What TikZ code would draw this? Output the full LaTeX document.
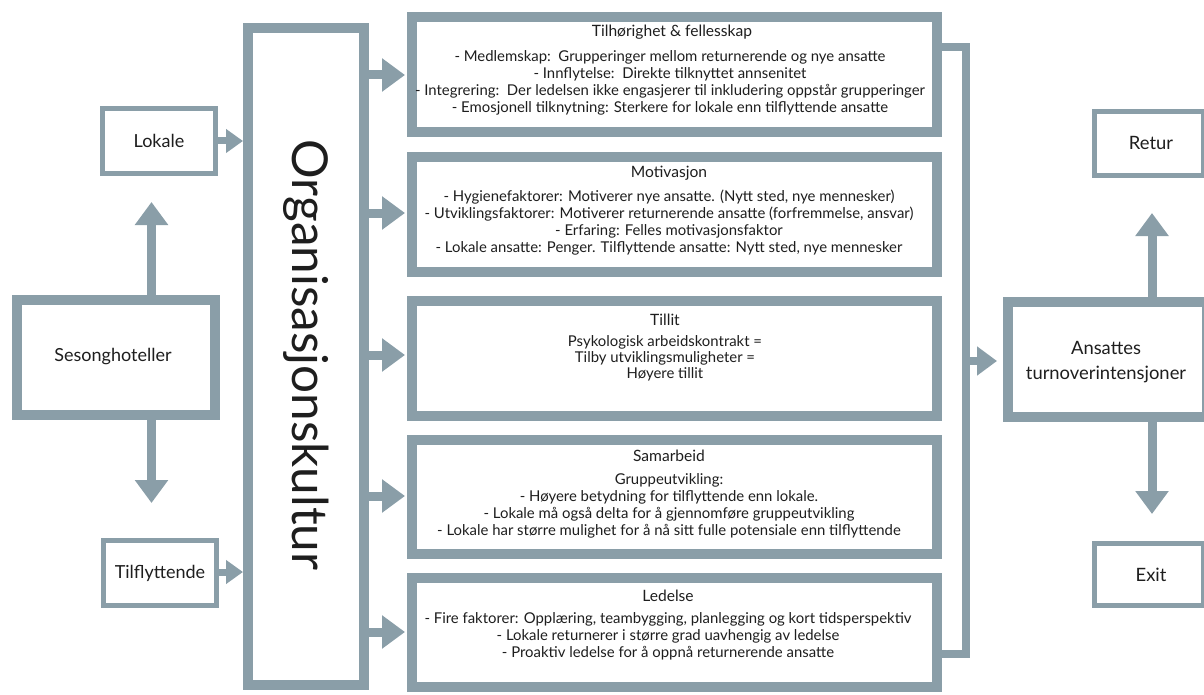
\documentclass[tikz,border=0pt]{standalone}
\usepackage{fontspec}
\setmainfont{Lato}
\usetikzlibrary{arrows.meta}
\definecolor{bc}{HTML}{8A9EA8}
\definecolor{tc}{HTML}{1E1E1E}
\begin{document}
\begin{tikzpicture}[x=1pt,y=-1pt,
  thickbox/.style={draw=bc, line width=10pt, inner sep=0pt, fill=white, text=tc},
  thinbox/.style={draw=bc, line width=5pt, inner sep=0pt, fill=white, text=tc},
  bigarrow/.style={draw=bc, line width=9pt, -{Triangle[width=32pt,length=23pt]}},
  smallarrow/.style={draw=bc, line width=7pt, -{Triangle[width=23pt,length=17pt]}},
  medarrow/.style={draw=bc, line width=8pt, -{Triangle[width=28pt,length=20pt]}},
  ttl/.style={inner sep=0pt, text=tc, font=\fontsize{15.6}{17}\selectfont, text height=11pt, text depth=3pt},
  body/.style={inner sep=0pt, text=tc, font=\fontsize{14.9}{17}\selectfont, align=center},
  lbl/.style={inner sep=0pt, text=tc, font=\fontsize{18}{21}\selectfont, align=center},
  rlbl/.style={inner sep=0pt, text=tc, font=\fontsize{18.4}{25}\selectfont, align=center}]
\useasboundingbox (0,0) rectangle (1204,695);
\clip (0,0) rectangle (1204,695);

% left side
\node[thinbox, minimum width=113pt, minimum height=65pt] (lok) at (159,141) {};
\node[lbl] (lokt) at (159,141) {Lokale};
\node[thinbox, minimum width=113pt, minimum height=65pt] (tif) at (160,573) {};
\node[lbl] (tift) at (160,573) {Tilflyttende};
\node[thickbox, minimum width=198pt, minimum height=115pt] (ses) at (116,357.5) {};
\node[lbl] (sest) at (113,357) {Sesonghoteller};

\coordinate (upTip) at (151.5,202);
\coordinate (dnTip) at (151.5,503);
\draw[bigarrow] (ses.north -| upTip) -- (upTip);
\draw[bigarrow] (ses.south -| dnTip) -- (dnTip);

% organisational culture
\node[thickbox, minimum width=116pt, minimum height=657pt] (org) at (306,356.5) {};
\node[inner sep=0pt, text=tc, font=\fontsize{49.5}{50}\selectfont, rotate=-90] (orgt) at (306,355) {Organisasjonskultur};

\coordinate (lokTip) at (243,141);
\coordinate (tifTip) at (243,572);
\draw[smallarrow] (lok.east |- lokTip) -- (lokTip);
\draw[smallarrow] (tif.east |- tifTip) -- (tifTip);

% factor boxes
\node[thickbox, minimum width=525pt, minimum height=115pt] (b1) at (674.5,74.5) {};
\node[thickbox, minimum width=525pt, minimum height=115pt] (b2) at (674.5,214.5) {};
\node[thickbox, minimum width=525pt, minimum height=115pt] (b3) at (674.5,358.5) {};
\node[thickbox, minimum width=525pt, minimum height=114pt] (b4) at (674.5,497) {};
\node[thickbox, minimum width=525pt, minimum height=109pt] (b5) at (674.5,632.5) {};

\node[ttl] (t1) at (672,33) {Tilhørighet \& fellesskap};
\node[body] (d1) at (670,82.5) {- Medlemskap:\ \ Grupperinger mellom returnerende og nye ansatte\\
- Innflytelse:\ \ Direkte tilknyttet annsenitet\\
- Integrering:\ \ Der ledelsen ikke engasjerer til inkludering oppstår grupperinger\\
- Emosjonell tilknytning: Sterkere for lokale enn tilflyttende ansatte};

\node[ttl] (t2) at (669,174) {Motivasjon};
\node[body] (d2) at (669,223) {- Hygienefaktorer: Motiverer nye ansatte. (Nytt sted, nye mennesker)\\
- Utviklingsfaktorer: Motiverer returnerende ansatte (forfremmelse, ansvar)\\
- Erfaring: Felles motivasjonsfaktor\\
- Lokale ansatte: Penger. Tilflyttende ansatte: Nytt sted, nye mennesker};

\node[ttl] (t3) at (665,321) {Tillit};
\node[body, font=\fontsize{14.9}{16}\selectfont] (d3) at (665,358) {Psykologisk arbeidskontrakt =\\
Tilby utviklingsmuligheter =\\
Høyere tillit};

\node[ttl] (t4) at (669,457) {Samarbeid};
\node[body] (d4) at (669,506) {Gruppeutvikling:\\
- Høyere betydning for tilflyttende enn lokale.\\
- Lokale må også delta for å gjennomføre gruppeutvikling\\
- Lokale har større mulighet for å nå sitt fulle potensiale enn tilflyttende};

\node[ttl] (t5) at (668,597) {Ledelse};
\node[body] (d5) at (668,636) {- Fire faktorer: Opplæring, teambygging, planlegging og kort tidsperspektiv\\
- Lokale returnerer i større grad uavhengig av ledelse\\
- Proaktiv ledelse for å oppnå returnerende ansatte};

\coordinate (a1) at (405,75);
\coordinate (a2) at (405,213);
\coordinate (a3) at (405,355);
\coordinate (a4) at (405,496);
\coordinate (a5) at (405,632);
\foreach \a in {a1,a2,a3,a4,a5}
  \draw[bigarrow] (org.east |- \a) -- (\a);

% right side
\node[thickbox, minimum width=199pt, minimum height=115pt] (ans) at (1107.5,359.5) {};
\node[rlbl] (anst) at (1106,362) {Ansattes\\turnoverintensjoner};
\node[thinbox, minimum width=109pt, minimum height=64pt] (ret) at (1149,143.5) {};
\node[rlbl] (rett) at (1151,143) {Retur};
\node[thinbox, minimum width=109pt, minimum height=62pt] (exi) at (1149,574.5) {};
\node[rlbl] (exit) at (1151,575) {Exit};

\coordinate (brTop) at (965.5,47);
\coordinate (brBot) at (965.5,654);
\coordinate (brMid) at (965.5,361);
\coordinate (ansTip) at (997,361);
\draw[bc, line width=8pt] (b1.east |- brTop) -- (brTop) -- (brBot) -- (b5.east |- brBot);
\draw[medarrow] (brMid) -- (ansTip);

\coordinate (retTip) at (1152,213);
\coordinate (exiTip) at (1152,514);
\draw[bigarrow] (ans.north -| retTip) -- (retTip);
\draw[bigarrow] (ans.south -| exiTip) -- (exiTip);
\end{tikzpicture}
\end{document}
